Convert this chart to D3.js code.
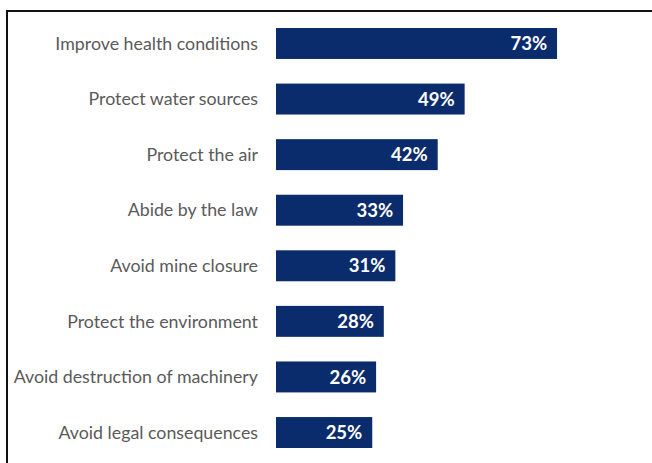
<!DOCTYPE html>
<html>
<head>
<meta charset="utf-8">
<script src="https://cdn.jsdelivr.net/npm/d3@7"></script>
<style>
  html, body { margin: 0; padding: 0; background: #fff; }
  svg { display: block; }
</style>
</head>
<body>
<svg id="chart" width="652" height="463"></svg>
<script>
// Reasons given, in the order they are shown (top to bottom)
const categories = [
  "Improve health conditions",
  "Protect water sources",
  "Protect the air",
  "Abide by the law",
  "Avoid mine closure",
  "Protect the environment",
  "Avoid destruction of machinery",
  "Avoid legal consequences"
];
// Share of respondents, in percent
const values = [73, 49, 42, 33, 31, 28, 26, 25];

const data = categories.map((c, i) => ({ category: c, value: values[i] }));

const svg = d3.select("#chart");
const W = 652, H = 463;

// Frame: top and left rules only, running off the canvas
svg.append("path")
  .attr("d", `M${W + 5},11 L7,11 L7,${H + 5}`)
  .attr("fill", "none")
  .attr("stroke", "#111")
  .attr("stroke-width", 2);

const x = d3.scaleLinear().domain([0, 100]).range([276, 661]);
const y = d3.scaleBand()
  .domain(categories)
  .range([28, 448])
  .paddingInner(0.443)
  .paddingOuter(0);

const row = svg.selectAll("g.row")
  .data(data)
  .join("g")
  .attr("class", "row");

row.append("rect")
  .attr("x", x(0))
  .attr("y", d => y(d.category))
  .attr("width", d => x(d.value) - x(0))
  .attr("height", y.bandwidth())
  .attr("fill", "#0b2c6c");

// Category labels, right-aligned against the bars
row.append("text")
  .attr("x", 258)
  .attr("y", d => y(d.category) + y.bandwidth() / 2)
  .attr("dy", "0.35em")
  .attr("text-anchor", "end")
  .attr("font-family", "Lato, 'Open Sans', sans-serif")
  .attr("font-size", 17.8)
  .attr("fill", "#5a5a5a")
  .text(d => d.category);

// Value labels inside the bar ends
row.append("text")
  .attr("x", d => x(d.value) - 10)
  .attr("y", d => y(d.category) + y.bandwidth() / 2)
  .attr("dy", "0.36em")
  .attr("text-anchor", "end")
  .attr("font-family", "Lato, 'Open Sans', sans-serif")
  .attr("font-weight", "bold")
  .attr("font-size", 18.5)
  .attr("fill", "#fff")
  .text(d => d.value + "%");
</script>
</body>
</html>
